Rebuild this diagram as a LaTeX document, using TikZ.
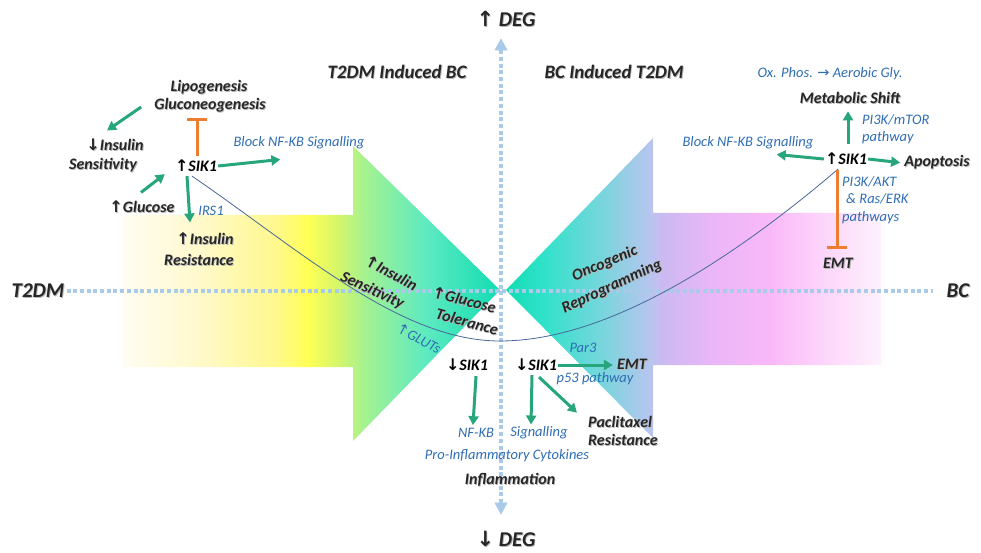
\documentclass[tikz,border=0pt]{standalone}
\usepackage{fontspec}
\setmainfont{Carlito}
\newfontfamily\symfont{DejaVu Sans}
\usetikzlibrary{arrows.meta,calc}

\definecolor{darktext}{HTML}{262626}
\definecolor{bluetext}{HTML}{2E6DB4}
\definecolor{arrowgreen}{RGB}{38,166,122}
\definecolor{inhorange}{HTML}{ED7D31}
\definecolor{axisblue}{RGB}{170,202,234}
\definecolor{curveblue}{RGB}{72,104,152}
% left arrow colours
\definecolor{lsA}{HTML}{FFFDF2}
\definecolor{lsB}{HTML}{FFF9CC}
\definecolor{lsC}{HTML}{FFF890}
\definecolor{lsD}{HTML}{FFFF55}
\definecolor{lsE}{HTML}{D4F66A}
\definecolor{lsF}{HTML}{A5F290}
\definecolor{lsG}{HTML}{5EEAC0}
\definecolor{lsH}{HTML}{12DCB2}
% right arrow colours
\definecolor{rsA}{HTML}{12DCB2}
\definecolor{rsB}{HTML}{30E2CA}
\definecolor{rsC}{HTML}{75D6DC}
\definecolor{rsD}{HTML}{B5C6EE}
\definecolor{rsE}{HTML}{CDB9F2}
\definecolor{rsF}{HTML}{EAB6F7}
\definecolor{rsG}{HTML}{F9B8F8}
\definecolor{rsH}{HTML}{FCD6FA}
\definecolor{rsI}{HTML}{FEF1FC}

\pgfdeclarehorizontalshading{tdmshade}{100bp}{color(0bp)=(lsA); color(25bp)=(lsA);
  color(35bp)=(lsB); color(45bp)=(lsC); color(49.5bp)=(lsD); color(53.5bp)=(lsE);
  color(57bp)=(lsF); color(65bp)=(lsG); color(75bp)=(lsH); color(100bp)=(lsH)}
\pgfdeclarehorizontalshading{bcshade}{100bp}{color(0bp)=(rsA); color(25bp)=(rsA);
  color(30bp)=(rsB); color(37.5bp)=(rsC); color(44bp)=(rsD); color(46bp)=(rsE);
  color(52.5bp)=(rsF); color(60bp)=(rsG); color(67.5bp)=(rsH); color(75bp)=(rsI);
  color(100bp)=(rsI)}

\pgfdeclarelayer{bg}
\pgfsetlayers{bg,main}

\newcommand{\upa}{{\symfont\upshape ↑}}
\newcommand{\dna}{{\symfont\upshape ↓}}
% grey drop shadow behind a label
\newcommand{\shd}[1]{\makebox[0pt][l]{\kern0.9pt\raisebox{-0.9pt}{\textcolor{black!28}{#1}}}#1}

\tikzset{
  lbl/.style={text=darktext, inner sep=1pt, font=\fontsize{16}{18}\selectfont\bfseries\itshape},
  sik/.style={text=black, inner sep=1pt, font=\fontsize{16}{18}\selectfont\bfseries\itshape},
  blu/.style={text=bluetext, inner sep=1pt, font=\fontsize{14.5}{17.5}\selectfont\itshape},
  ttl/.style={text=darktext, inner sep=1pt, font=\fontsize{19}{21}\selectfont\bfseries\itshape},
  axl/.style={text=darktext, inner sep=1pt, font=\fontsize{21}{23}\selectfont\bfseries\itshape},
  garrow/.style={draw=arrowgreen, line width=3pt, -{Triangle[length=9pt,width=10pt]}},
  inhib/.style={draw=inhorange, line width=3pt, -{Bar[width=20pt]}},
  axis/.style={draw=axisblue, line width=4pt, dash pattern=on 4pt off 2.7pt},
  trend/.style={draw=curveblue, line width=0.8pt}
}

\begin{document}
\begin{tikzpicture}[x=1pt,y=-1pt]
\useasboundingbox (0,0) rectangle (981,553);

% axis labels and titles
\node[axl] (tL) at (38,291) {\shd{T2DM}};
\node[axl] (tR) at (958,291) {\shd{BC}};
\node[axl] (degU) at (506,19) {\shd{\upa\ DEG}};
\node[axl] (degD) at (506,539) {\shd{\dna\ DEG}};
\node[ttl] (t2bc) at (397,72) {\shd{T2DM Induced BC}};
\node[ttl] (bct2) at (614,72) {\shd{BC Induced T2DM}};

% T2DM side
\node[lbl] (lipo) at (209,88) {\shd{Lipogenesis}};
\node[lbl] (gluco) at (210,106) {\shd{Gluconeogenesis}};
\node[lbl] (insA) at (115,145) {\shd{\dna Insulin}};
\node[lbl] (insB) at (103,166) {\shd{Sensitivity}};
\node[sik] (sikL) at (196,166) {\upa SIK1};
\node[blu] (blockL) at (299,143) {Block NF-KB Signalling};
\node[lbl] (glucose) at (142,207) {\shd{\upa Glucose}};
\node[blu] (irs) at (211,211) {IRS1};
\node[lbl] (resA) at (205,239) {\shd{\upa Insulin}};
\node[lbl] (resB) at (199,260) {\shd{Resistance}};

% centre
\node[lbl, rotate=-28] (senA) at (391,273) {\shd{\upa Insulin}};
\node[lbl, rotate=-25] (senB) at (372,291) {\shd{Sensitivity}};
\node[lbl, rotate=-14] (tolA) at (464,300) {\shd{\upa Glucose}};
\node[lbl, rotate=-15] (tolB) at (467,322) {\shd{Tolerance}};
\node[blu, rotate=-28] (gluts) at (419,338) {\upa GLUTs};
\node[lbl, rotate=23] (oncA) at (605,264) {\shd{Oncogenic}};
\node[lbl, rotate=25] (oncB) at (612,287) {\shd{Reprogramming}};

% BC side
\node[blu] (oxph) at (830,74) {Ox. Phos. {\symfont\upshape →} Aerobic Gly.};
\node[lbl] (meta) at (850,98) {\shd{Metabolic Shift}};
\node[blu, align=left, anchor=north west] (mtor) at (861,113) {PI3K/mTOR\\pathway};
\node[sik] (sikR) at (846,159) {\upa SIK1};
\node[blu] (blockR) at (748,143) {Block NF-KB Signalling};
\node[lbl] (apop) at (937,163) {\shd{Apoptosis}};
\node[blu, align=left, anchor=north west] (akt) at (841,175) {PI3K/AKT\\\hspace{4pt}\& Ras/ERK\\pathways};
\node[lbl] (emtR) at (838,264) {\shd{EMT}};

% lower half
\node[sik] (sikD1) at (467,365) {\dna SIK1};
\node[sik] (sikD2) at (536,365) {\dna SIK1};
\node[lbl] (emtB) at (632,365) {\shd{EMT}};
\node[blu] (par3) at (583,348) {Par3};
\node[blu] (p53) at (595,379) {p53 pathway};
\node[lbl, align=left, anchor=west] (pac) at (587,431) {\shd{Paclitaxel}\\\shd{Resistance}};
\node[blu] (nfkb) at (476,433) {NF-KB};
\node[blu] (sigB) at (539,433) {Signalling};
\node[blu] (proinf) at (507,456) {Pro-Inflammatory Cytokines};
\node[lbl] (inflam) at (510,480) {\shd{Inflammation}};

\begin{pgfonlayer}{bg}
% big arrows
\shade[shading=tdmshade] (123,215) -- (353,215) -- (353,146) -- (500,290) -- (353,441) -- (353,367) -- (123,367) -- cycle;
\shade[shading=bcshade] (881,213) -- (653,213) -- (653,138) -- (506,290) -- (653,438) -- (653,365) -- (881,365) -- cycle;
% axes
\draw[axis, shorten <=1pt, shorten >=12pt] (tL.east) -- (tR.west);
\draw[axis, {Triangle[length=12pt,width=13pt,line width=0.5pt]}-{Triangle[length=12pt,width=13pt,line width=0.5pt]}]
  ($(degU.south)+(-5,10)$) -- ($(degD.north)+(-5,-15)$);
% trend
\draw[trend] ($(sikL.south)+(-4,3)$) .. controls (300,250) and (400,341) .. (500,341)
  .. controls (600,341) and (720,270) .. ($(sikR.south)+(-8,3)$);
\end{pgfonlayer}

% connectors, T2DM side
\draw[garrow] ($(gluco.west)+(-12,1)$) -- ($(insA.north)+(-8,-7)$);
\draw[inhib] ($(sikL.north)+(1,-3)$) -- ($(gluco.south)+(-13,3)$);
\draw[garrow] (sikL.east) -- ($(blockL.south west)+(48,9)$);
\draw[garrow] ($(glucose.north)+(-1,-7)$) -- ($(sikL.south west)+(-9,1)$);
\draw[garrow] ($(sikL.south)+(-9,3)$) -- ($(resA.north)+(-15,-9)$);

% connectors, BC side
\draw[garrow] ($(sikR.north)+(2,-8)$) -- ($(meta.south)+(-2,6)$);
\draw[garrow] (sikR.west) -- ($(blockR.south east)+(-38,4)$);
\draw[garrow, shorten >=3pt] (sikR.east) -- (apop.west);
\draw[inhib] ($(sikR.south)+(-9,4)$) -- ($(emtR.north)+(-1,-8)$);

% connectors, lower half
\draw[garrow, shorten >=3pt] (sikD2.east) -- (emtB.west);
\draw[garrow] ($(sikD1.south)+(9,4)$) -- ($(nfkb.north)+(-3,-2)$);
\draw[garrow] ($(sikD2.south)+(-4,3)$) -- ($(sigB.north)+(-8,-1)$);
\draw[garrow] ($(sikD2.south)+(3,5)$) -- ($(pac.north west)+(-10,-2)$);
\end{tikzpicture}
\end{document}
